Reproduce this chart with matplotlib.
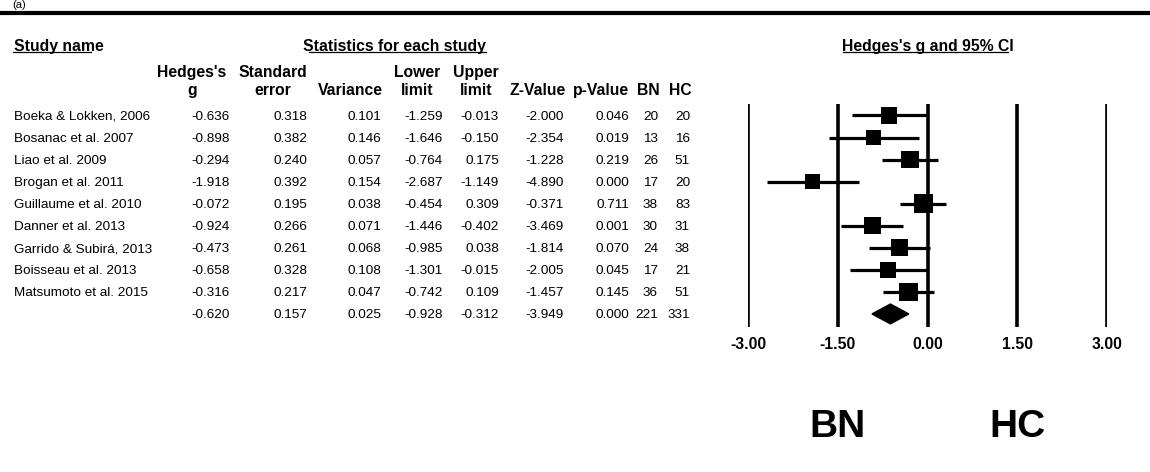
import matplotlib
matplotlib.use("Agg")
import matplotlib.pyplot as plt
from matplotlib import transforms
import numpy as np

plt.rcParams["font.family"] = ["Liberation Sans", "DejaVu Sans"]

# ---- Data ----
studies = ["Boeka & Lokken, 2006", "Bosanac et al. 2007", "Liao et al. 2009",
           "Brogan et al. 2011", "Guillaume et al. 2010", "Danner et al. 2013",
           "Garrido & Subirá, 2013", "Boisseau et al. 2013", "Matsumoto et al. 2015"]
hedges_g = [-0.636, -0.898, -0.294, -1.918, -0.072, -0.924, -0.473, -0.658, -0.316]
std_err = [0.318, 0.382, 0.240, 0.392, 0.195, 0.266, 0.261, 0.328, 0.217]
variance = [0.101, 0.146, 0.057, 0.154, 0.038, 0.071, 0.068, 0.108, 0.047]
lower = [-1.259, -1.646, -0.764, -2.687, -0.454, -1.446, -0.985, -1.301, -0.742]
upper = [-0.013, -0.150, 0.175, -1.149, 0.309, -0.402, 0.038, -0.015, 0.109]
z_val = [-2.000, -2.354, -1.228, -4.890, -0.371, -3.469, -1.814, -2.005, -1.457]
p_val = [0.046, 0.019, 0.219, 0.000, 0.711, 0.001, 0.070, 0.045, 0.145]
n_bn = [20, 13, 26, 17, 38, 30, 24, 17, 36]
n_hc = [20, 16, 51, 20, 83, 31, 38, 21, 51]

# pooled row
sum_g, sum_se, sum_var = -0.620, 0.157, 0.025
sum_lower, sum_upper = -0.928, -0.312
sum_z, sum_p = -3.949, 0.000
sum_bn, sum_hc = 221, 331

ticks = [-3.0, -1.5, 0.0, 1.5, 3.0]

# ---- Figure ----
W, H = 1150, 472
fig = plt.figure(figsize=(W / 100, H / 100), dpi=100)

# overlay in pixel coordinates for the table part
page = fig.add_axes([0, 0, 1, 1])
page.set_xlim(0, W)
page.set_ylim(H, 0)
page.axis("off")

# forest plot axes
ax = fig.add_axes([748 / W, (H - 327) / H, 359 / W, (327 - 104) / H])
ax.set_xlim(-3, 3)
ax.set_ylim(9.592, -0.5215)
ax.patch.set_alpha(0)
for s in ax.spines.values():
    s.set_visible(False)

rows = np.arange(len(studies))
sum_row = len(studies)

for t in ticks:
    ax.axvline(t, color="black", lw=2.6, zorder=1)

ax.hlines(rows, lower, upper, color="black", lw=2.3, zorder=2)

# square size follows study weight
w = 1 / (np.array(variance) + 0.05)
side_px = 15 + 4 * (w - w.min()) / (w.max() - w.min())
ax.scatter(hedges_g, rows, marker="s", s=(side_px * 0.72) ** 2,
           color="black", linewidths=0, zorder=3)

ax.fill([sum_lower, sum_g, sum_upper, sum_g],
        [sum_row, sum_row - 0.45, sum_row, sum_row + 0.45],
        color="black", zorder=3)

ax.set_xticks(ticks, labels=[f"{t:.2f}" for t in ticks],
              fontweight="bold", fontsize=11.3)
ax.set_yticks([])
ax.tick_params(axis="x", length=0, pad=7.5)

# ---- Table ----
row_tr = transforms.blended_transform_factory(page.transData, ax.transData)
body = dict(fontsize=9.7, va="center_baseline", transform=row_tr)
head = dict(fontsize=11.3, fontweight="bold", va="center_baseline")

# columns: (header lines, header centre, right edge of numbers)
cols = [
    (("Hedges's", "g"), 192, 230, hedges_g, sum_g, "{:.3f}"),
    (("Standard", "error"), 273, 307, std_err, sum_se, "{:.3f}"),
    (("", "Variance"), 350, 381, variance, sum_var, "{:.3f}"),
    (("Lower", "limit"), 417, 443, lower, sum_lower, "{:.3f}"),
    (("Upper", "limit"), 476, 499, upper, sum_upper, "{:.3f}"),
    (("", "Z-Value"), 538, 564, z_val, sum_z, "{:.3f}"),
    (("", "p-Value"), 601, 629, p_val, sum_p, "{:.3f}"),
    (("", "BN"), 648, 658, n_bn, sum_bn, "{}"),
    (("", "HC"), 680, 690, n_hc, sum_hc, "{}"),
]

for i, name in enumerate(studies):
    page.text(14, i, name, ha="left", **body)

for (l1, l2), xc, xr, vals, tot, fmt in cols:
    page.text(xc, 71, l1, ha="center", **head)
    page.text(xc, 89, l2, ha="center", **head)
    for i, v in enumerate(vals):
        page.text(xr, i, fmt.format(v), ha="right", **body)
    page.text(xr, sum_row, fmt.format(tot), ha="right", **body)

# group headers with underlines
page.text(14, 45, "Study name", ha="left", **head)
page.text(394, 45, "Statistics for each study", ha="center", **head)
page.text(928, 45, "Hedges's g and 95% CI", ha="center", **head)
for x0, x1 in [(13, 91), (309, 486), (843, 1008)]:
    page.plot([x0, x1], [51.5, 51.5], color="black", lw=0.9)

# top rule and panel label
page.plot([0, W], [13, 13], color="black", lw=3)
page.text(12, 8, "(a)", ha="left", va="baseline", fontsize=8)

# group labels under the axis
grp_tr = transforms.blended_transform_factory(ax.transData, page.transData)
page.text(-1.5, 423, "BN", ha="center", va="center_baseline", fontsize=28,
          fontweight="bold", transform=grp_tr)
page.text(1.5, 423, "HC", ha="center", va="center_baseline", fontsize=28,
          fontweight="bold", transform=grp_tr)

fig.savefig("out.png", dpi=100)
